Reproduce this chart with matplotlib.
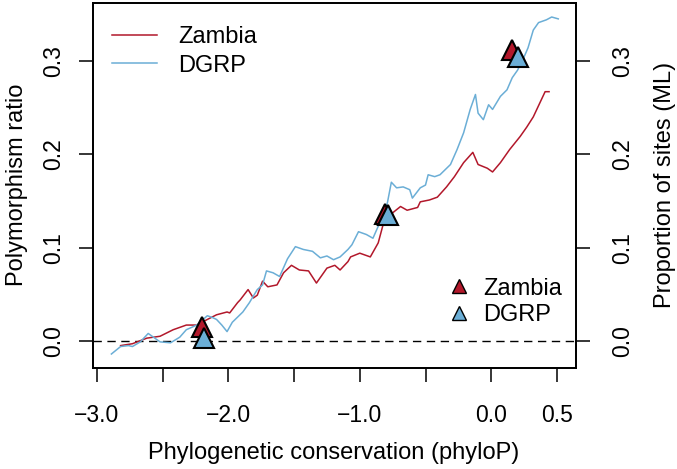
import matplotlib
matplotlib.use("Agg")
import matplotlib.pyplot as plt
from matplotlib.lines import Line2D

plt.rcParams['font.family'] = ['Liberation Sans', 'DejaVu Sans']

# running polymorphism ratio vs phyloP
dgrp_x = [-2.89, -2.82, -2.76, -2.73, -2.67, -2.61, -2.57, -2.52, -2.44, -2.37,
          -2.32, -2.24, -2.16, -2.12, -2.09, -2.05, -2.01, -1.97, -1.89, -1.84,
          -1.78, -1.74, -1.71, -1.66, -1.61, -1.55, -1.49, -1.43, -1.36, -1.30,
          -1.25, -1.20, -1.15, -1.09, -1.06, -1.01, -0.95, -0.90, -0.85, -0.79,
          -0.76, -0.72, -0.67, -0.62, -0.60, -0.54, -0.50, -0.48, -0.43, -0.39,
          -0.31, -0.26, -0.21, -0.16, -0.12, -0.10, -0.06, -0.02, 0.01, 0.07,
          0.12, 0.16, 0.20, 0.24, 0.28, 0.32, 0.36, 0.42, 0.46, 0.51]
dgrp_y = [-0.014, -0.006, -0.005, -0.006, -0.001, 0.008, 0.004, -0.001, -0.002, 0.004,
          0.012, 0.017, 0.027, 0.025, 0.023, 0.017, 0.010, 0.020, 0.031, 0.041,
          0.055, 0.060, 0.075, 0.073, 0.069, 0.088, 0.101, 0.098, 0.096, 0.089,
          0.091, 0.087, 0.090, 0.098, 0.103, 0.117, 0.114, 0.110, 0.126, 0.148,
          0.170, 0.164, 0.165, 0.162, 0.153, 0.164, 0.167, 0.178, 0.176, 0.178,
          0.189, 0.205, 0.223, 0.248, 0.264, 0.244, 0.237, 0.253, 0.248, 0.262,
          0.269, 0.282, 0.290, 0.301, 0.314, 0.333, 0.341, 0.344, 0.347, 0.345]

zambia_x = [-2.82, -2.73, -2.62, -2.52, -2.42, -2.32, -2.24, -2.16, -2.09, -2.01,
            -1.99, -1.93, -1.91, -1.85, -1.81, -1.78, -1.74, -1.70, -1.63, -1.58,
            -1.52, -1.46, -1.39, -1.33, -1.25, -1.19, -1.15, -1.09, -1.07, -1.00,
            -0.92, -0.86, -0.82, -0.77, -0.69, -0.64, -0.56, -0.54, -0.47, -0.41,
            -0.34, -0.28, -0.21, -0.14, -0.10, -0.03, 0.01, 0.07, 0.14, 0.22,
            0.27, 0.32, 0.37, 0.41, 0.44]
zambia_y = [-0.005, -0.003, 0.003, 0.005, 0.012, 0.017, 0.017, 0.023, 0.028, 0.031,
            0.030, 0.041, 0.044, 0.055, 0.046, 0.049, 0.064, 0.058, 0.060, 0.073,
            0.081, 0.076, 0.075, 0.062, 0.078, 0.081, 0.076, 0.085, 0.090, 0.094,
            0.090, 0.105, 0.126, 0.135, 0.144, 0.140, 0.143, 0.149, 0.151, 0.154,
            0.165, 0.176, 0.191, 0.202, 0.189, 0.185, 0.181, 0.191, 0.205, 0.219,
            0.229, 0.240, 0.255, 0.267, 0.267]

# proportion of sites (ML estimate) at three phyloP classes
ml_zambia_x = [-2.20, -0.81, 0.16]
ml_zambia_y = [0.015, 0.136, 0.312]
ml_dgrp_x = [-2.185, -0.785, 0.20]
ml_dgrp_y = [0.003, 0.135, 0.304]

red = "#B2182B"
blue = "#6BAED6"

fig = plt.figure(figsize=(6.77, 4.69), dpi=100)
ax = fig.add_axes([93/677, 1-368/469, (576-93)/677, (368-3)/469])

ax.axhline(0, color="black", lw=1.0, ls=(0, (6, 4)))
ax.plot(zambia_x, zambia_y, color=red, lw=1.1, label="Zambia")
ax.plot(dgrp_x, dgrp_y, color=blue, lw=1.1, label="DGRP")
ax.plot(ml_zambia_x, ml_zambia_y, ls="none", marker="^", ms=15, mfc=red, mec="black", mew=1.5)
ax.plot(ml_dgrp_x, ml_dgrp_y, ls="none", marker="^", ms=15, mfc=blue, mec="black", mew=1.5)

ax.set_xlim(-3.03, 0.645)
ax.set_ylim(-0.029, 0.362)

yt = [0, 0.1, 0.2, 0.3]
ytl = ["0.0", "0.1", "0.2", "0.3"]
ax.set_xticks([-3, -2.5, -2, -1.5, -1, -0.5, 0, 0.5])
ax.set_xticklabels(["\u22123.0", "", "\u22122.0", "", "\u22121.0", "", "0.0", "0.5"])
ax.set_yticks(yt)
ax.set_yticklabels(ytl, rotation=90, va="center")
ax.tick_params(axis="x", length=10, width=1.1, labelsize=16.5, pad=16)
ax.tick_params(axis="y", length=10, width=1.1, labelsize=16.5, pad=10)

ax2 = ax.twinx()
ax2.set_ylim(ax.get_ylim())
ax2.set_yticks(yt)
ax2.set_yticklabels(ytl, rotation=90, va="center")
ax2.tick_params(axis="y", length=10, width=1.1, labelsize=16.5, pad=15)

for a in (ax, ax2):
    for sp in a.spines.values():
        sp.set_linewidth(1.3)

fig.text(334/677, 1-453/469, "Phylogenetic conservation (phyloP)", ha="center", va="center", fontsize=17)
fig.text(17/677, 1-185/469, "Polymorphism ratio", ha="center", va="center", rotation=90, fontsize=17)
fig.text(665/677, 1-185/469, "Proportion of sites (ML)", ha="center", va="center", rotation=90, fontsize=17)

leg1 = ax.legend(loc="upper left", bbox_to_anchor=(0.02, 0.963), frameon=False, fontsize=17,
                 handlelength=1.9, handletextpad=0.9, labelspacing=0.28, borderaxespad=0)
ax.add_artist(leg1)
handles = [Line2D([], [], ls="none", marker="^", ms=10, mfc=red, mec="black", mew=1.0),
           Line2D([], [], ls="none", marker="^", ms=10, mfc=blue, mec="black", mew=1.0)]
ax.legend(handles, ["Zambia", "DGRP"], loc="lower right", bbox_to_anchor=(0.99, 0.089),
          frameon=False, fontsize=17, handlelength=1.0, handletextpad=0.5,
          labelspacing=0.185, borderaxespad=0)

fig.savefig("out.png", dpi=100)
